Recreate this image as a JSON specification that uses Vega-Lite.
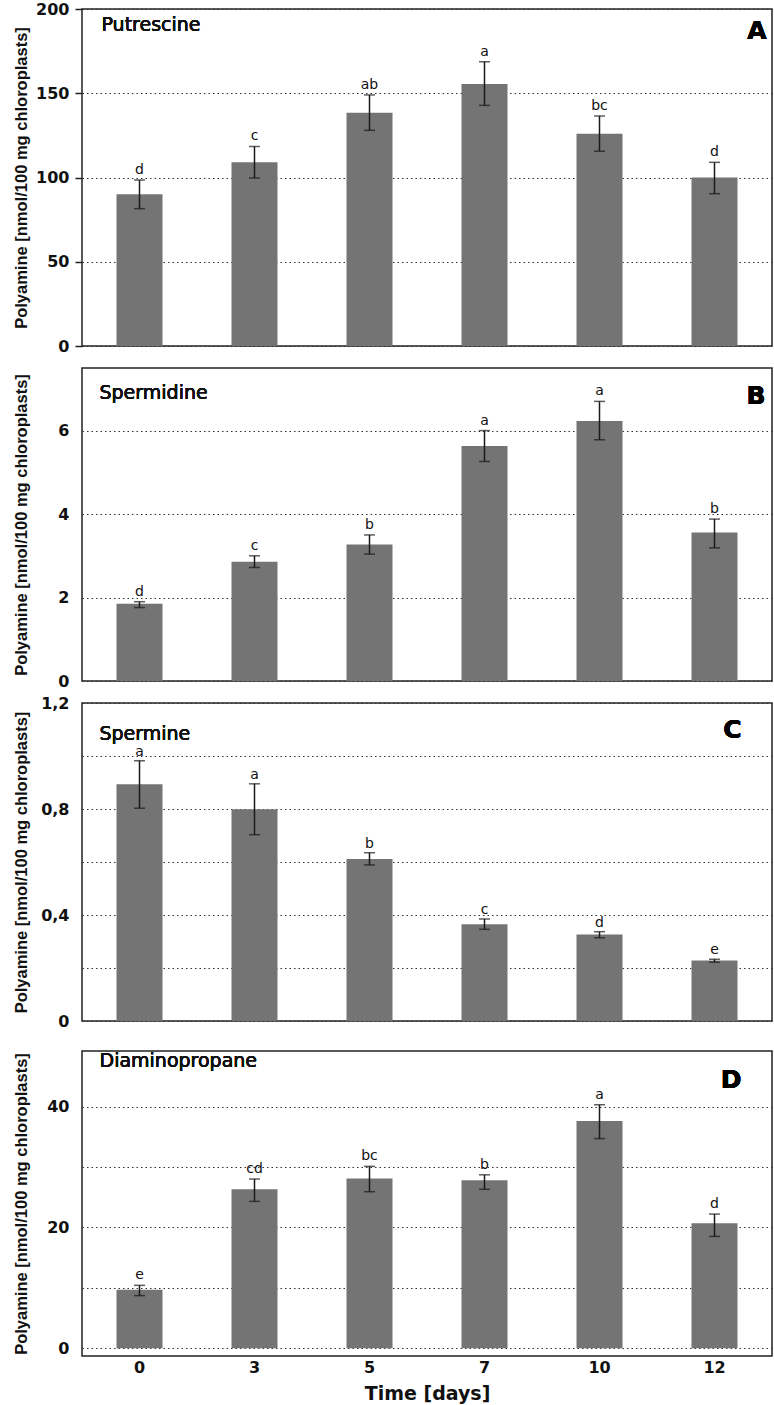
{
  "$schema": "https://vega.github.io/schema/vega-lite/v6.json",
  "padding": {"left": 12, "top": 0, "right": 0, "bottom": 0},
  "background": "white",
  "datasets": {
    "put": [
      {"day": "0", "mean": 90, "lo": 81.5, "hi": 98.5, "sig": "d"},
      {"day": "3", "mean": 109, "lo": 99.7, "hi": 118.4, "sig": "c"},
      {"day": "5", "mean": 138.5, "lo": 128, "hi": 149, "sig": "ab"},
      {"day": "7", "mean": 155.5, "lo": 142.8, "hi": 168.7, "sig": "a"},
      {"day": "10", "mean": 126, "lo": 115.6, "hi": 136.5, "sig": "bc"},
      {"day": "12", "mean": 100, "lo": 90.4, "hi": 109, "sig": "d"}
    ],
    "spd": [
      {"day": "0", "mean": 1.85, "lo": 1.76, "hi": 1.9, "sig": "d"},
      {"day": "3", "mean": 2.86, "lo": 2.72, "hi": 3.0, "sig": "c"},
      {"day": "5", "mean": 3.27, "lo": 3.04, "hi": 3.5, "sig": "b"},
      {"day": "7", "mean": 5.63, "lo": 5.26, "hi": 6.0, "sig": "a"},
      {"day": "10", "mean": 6.23, "lo": 5.78, "hi": 6.7, "sig": "a"},
      {"day": "12", "mean": 3.56, "lo": 3.19, "hi": 3.88, "sig": "b"}
    ],
    "spm": [
      {"day": "0", "mean": 0.893, "lo": 0.803, "hi": 0.982, "sig": "a"},
      {"day": "3", "mean": 0.799, "lo": 0.703, "hi": 0.895, "sig": "a"},
      {"day": "5", "mean": 0.611, "lo": 0.589, "hi": 0.635, "sig": "b"},
      {"day": "7", "mean": 0.365, "lo": 0.346, "hi": 0.385, "sig": "c"},
      {"day": "10", "mean": 0.326, "lo": 0.314, "hi": 0.337, "sig": "d"},
      {"day": "12", "mean": 0.228, "lo": 0.222, "hi": 0.233, "sig": "e"}
    ],
    "dap": [
      {"day": "0", "mean": 9.65, "lo": 8.7, "hi": 10.4, "sig": "e"},
      {"day": "3", "mean": 26.3, "lo": 24.3, "hi": 28.0, "sig": "cd"},
      {"day": "5", "mean": 28.1, "lo": 25.9, "hi": 30.1, "sig": "bc"},
      {"day": "7", "mean": 27.8, "lo": 26.3, "hi": 28.7, "sig": "b"},
      {"day": "10", "mean": 37.6, "lo": 34.7, "hi": 40.3, "sig": "a"},
      {"day": "12", "mean": 20.7, "lo": 18.5, "hi": 22.2, "sig": "d"}
    ]
  },
  "config": {
    "font": "DejaVu Sans",
    "view": {"stroke": "#222", "strokeWidth": 1.5},
    "axis": {
      "labelFont": "DejaVu Sans", "labelFontSize": 16, "labelFontWeight": "bold", "labelColor": "#111",
      "titleFont": "Liberation Sans", "titleFontSize": 16.5, "titleFontWeight": "bold", "titleColor": "#111",
      "gridColor": "#333", "gridDash": [1.5, 3], "gridWidth": 1,
      "tickColor": "#222", "tickSize": 7, "tickWidth": 1.5, "domain": false, "labelPadding": 6
    },
    "axisX": {"titleFont": "DejaVu Sans", "titleFontSize": 19}
  },
  "spacing": 20,
  "vconcat": [
    {
      "bounds": "flush",
      "spacing": 22,
      "vconcat": [
        {
          "width": 690, "height": 337,
          "data": {"name": "put"},
          "encoding": {"x": {"field": "day", "type": "ordinal", "sort": null, "scale": {"paddingInner": 0.6, "paddingOuter": 0.3}, "axis": null}},
          "layer": [
            {"mark": {"type": "bar", "color": "#747474"},
             "encoding": {"y": {"field": "mean", "type": "quantitative", "title": "Polyamine [nmol/100 mg chloroplasts]", "scale": {"domain": [0, 200], "nice": false},
               "axis": {"values": [0, 50, 100, 150, 200], "titleX": -53, "grid": true}}}},
            {"mark": {"type": "errorbar", "color": "#1a1a1a", "ticks": {"size": 11, "thickness": 1.5}, "rule": {"strokeWidth": 1.5}},
             "encoding": {"y": {"field": "lo", "type": "quantitative", "title": "Polyamine [nmol/100 mg chloroplasts]"}, "y2": {"field": "hi"}}},
            {"mark": {"type": "text", "dy": -6, "baseline": "alphabetic", "fontSize": 14, "color": "#111"},
             "encoding": {"y": {"field": "hi", "type": "quantitative", "title": "Polyamine [nmol/100 mg chloroplasts]"}, "text": {"field": "sig"}}},
            {"mark": {"type": "text", "align": "left", "baseline": "alphabetic", "dx": -38, "fontSize": 19, "color": "#111"},
             "encoding": {"x": {"datum": "0", "type": "ordinal"}, "y": {"datum": 187, "type": "quantitative"}, "text": {"value": "Putrescine"}}},
            {"mark": {"type": "text", "align": "right", "baseline": "alphabetic", "dx": 52, "fontSize": 25, "fontWeight": "bold", "color": "#000"},
             "encoding": {"x": {"datum": "12", "type": "ordinal"}, "y": {"datum": 182, "type": "quantitative"}, "text": {"value": "A"}}}
          ]
        },
        {
          "width": 690, "height": 313,
          "data": {"name": "spd"},
          "encoding": {"x": {"field": "day", "type": "ordinal", "sort": null, "scale": {"paddingInner": 0.6, "paddingOuter": 0.3}, "axis": null}},
          "layer": [
            {"mark": {"type": "bar", "color": "#747474"},
             "encoding": {"y": {"field": "mean", "type": "quantitative", "title": "Polyamine [nmol/100 mg chloroplasts]", "scale": {"domain": [0, 7.5], "nice": false},
               "axis": {"values": [0, 2, 4, 6], "titleX": -53, "grid": true, "tickOpacity": 0}}}},
            {"mark": {"type": "errorbar", "color": "#1a1a1a", "ticks": {"size": 11, "thickness": 1.5}, "rule": {"strokeWidth": 1.5}},
             "encoding": {"y": {"field": "lo", "type": "quantitative", "title": "Polyamine [nmol/100 mg chloroplasts]"}, "y2": {"field": "hi"}}},
            {"mark": {"type": "text", "dy": -6, "baseline": "alphabetic", "fontSize": 14, "color": "#111"},
             "encoding": {"y": {"field": "hi", "type": "quantitative", "title": "Polyamine [nmol/100 mg chloroplasts]"}, "text": {"field": "sig"}}},
            {"mark": {"type": "text", "align": "left", "baseline": "alphabetic", "dx": -40, "fontSize": 19, "color": "#111"},
             "encoding": {"x": {"datum": "0", "type": "ordinal"}, "y": {"datum": 6.75, "type": "quantitative"}, "text": {"value": "Spermidine"}}},
            {"mark": {"type": "text", "align": "right", "baseline": "alphabetic", "dx": 51, "fontSize": 25, "fontWeight": "bold", "color": "#000"},
             "encoding": {"x": {"datum": "12", "type": "ordinal"}, "y": {"datum": 6.64, "type": "quantitative"}, "text": {"value": "B"}}}
          ]
        },
        {
          "width": 690, "height": 318,
          "data": {"name": "spm"},
          "encoding": {"x": {"field": "day", "type": "ordinal", "sort": null, "scale": {"paddingInner": 0.6, "paddingOuter": 0.3}, "axis": null}},
          "layer": [
            {"mark": {"type": "bar", "color": "#747474"},
             "encoding": {"y": {"field": "mean", "type": "quantitative", "title": "Polyamine [nmol/100 mg chloroplasts]", "scale": {"domain": [0, 1.2], "nice": false},
               "axis": {"values": [0, 0.2, 0.4, 0.6, 0.8, 1.0, 1.2], "labelExpr": "datum.value == 0 ? '0' : (round(datum.value * 10) % 4 == 0 ? replace(format(datum.value, '.1f'), '.', ',') : '')", "titleX": -53, "grid": true, "tickOpacity": 0}}}},
            {"mark": {"type": "errorbar", "color": "#1a1a1a", "ticks": {"size": 11, "thickness": 1.5}, "rule": {"strokeWidth": 1.5}},
             "encoding": {"y": {"field": "lo", "type": "quantitative", "title": "Polyamine [nmol/100 mg chloroplasts]"}, "y2": {"field": "hi"}}},
            {"mark": {"type": "text", "dy": -5, "baseline": "alphabetic", "fontSize": 14, "color": "#111"},
             "encoding": {"y": {"field": "hi", "type": "quantitative", "title": "Polyamine [nmol/100 mg chloroplasts]"}, "text": {"field": "sig"}}},
            {"mark": {"type": "text", "align": "left", "baseline": "alphabetic", "dx": -40, "fontSize": 19, "color": "#111"},
             "encoding": {"x": {"datum": "0", "type": "ordinal"}, "y": {"datum": 1.061, "type": "quantitative"}, "text": {"value": "Spermine"}}},
            {"mark": {"type": "text", "align": "right", "baseline": "alphabetic", "dx": 27, "fontSize": 25, "fontWeight": "bold", "color": "#000"},
             "encoding": {"x": {"datum": "12", "type": "ordinal"}, "y": {"datum": 1.068, "type": "quantitative"}, "text": {"value": "C"}}}
          ]
        }
      ]
    },
    {
      "width": 690, "height": 305,
      "data": {"name": "dap"},
      "encoding": {"x": {"field": "day", "type": "ordinal", "sort": null, "scale": {"paddingInner": 0.6, "paddingOuter": 0.3},
        "axis": {"title": "Time [days]", "labelAngle": 0, "ticks": false, "labelPadding": 3, "titlePadding": 9}}},
      "layer": [
        {"mark": {"type": "bar", "color": "#747474"},
         "encoding": {"y": {"field": "mean", "type": "quantitative", "title": "Polyamine [nmol/100 mg chloroplasts]", "scale": {"domain": [-1.3, 49.2], "nice": false, "zero": false},
           "axis": {"values": [0, 10, 20, 30, 40], "labelExpr": "datum.value % 20 == 0 ? datum.label : ''", "titleX": -53, "grid": true, "tickOpacity": 0}}}},
        {"mark": {"type": "errorbar", "color": "#1a1a1a", "ticks": {"size": 11, "thickness": 1.5}, "rule": {"strokeWidth": 1.5}},
         "encoding": {"y": {"field": "lo", "type": "quantitative", "title": "Polyamine [nmol/100 mg chloroplasts]"}, "y2": {"field": "hi"}}},
        {"mark": {"type": "text", "dy": -6, "baseline": "alphabetic", "fontSize": 14, "color": "#111"},
         "encoding": {"y": {"field": "hi", "type": "quantitative", "title": "Polyamine [nmol/100 mg chloroplasts]"}, "text": {"field": "sig"}}},
        {"mark": {"type": "text", "align": "left", "baseline": "alphabetic", "dx": -40, "fontSize": 19, "color": "#111"},
         "encoding": {"x": {"datum": "0", "type": "ordinal"}, "y": {"datum": 46.5, "type": "quantitative"}, "text": {"value": "Diaminopropane"}}},
        {"mark": {"type": "text", "align": "right", "baseline": "alphabetic", "dx": 27, "fontSize": 25, "fontWeight": "bold", "color": "#000"},
         "encoding": {"x": {"datum": "12", "type": "ordinal"}, "y": {"datum": 43.0, "type": "quantitative"}, "text": {"value": "D"}}}
      ]
    }
  ]
}
